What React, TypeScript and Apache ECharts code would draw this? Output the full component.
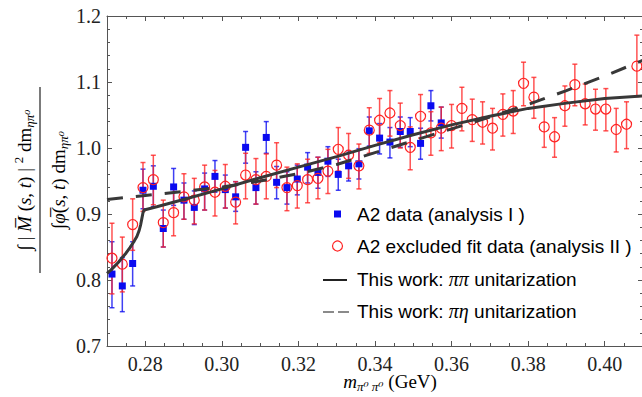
import React, { useEffect, useRef } from 'react';
import * as echarts from 'echarts';

// invariant mass m_{pi0 pi0} (GeV) of each data bin
const massValues = [
  0.2713, 0.2740, 0.2767, 0.2794, 0.2821, 0.2847, 0.2874, 0.2901, 0.2928, 0.2955,
  0.2982, 0.3009, 0.3036, 0.3062, 0.3089, 0.3116, 0.3143, 0.3170, 0.3197, 0.3224,
  0.3251, 0.3277, 0.3304, 0.3331, 0.3358, 0.3385, 0.3412, 0.3439, 0.3466, 0.3492,
  0.3519, 0.3546, 0.3573, 0.3600, 0.3627, 0.3654, 0.3681, 0.3707, 0.3734, 0.3761,
  0.3788, 0.3815, 0.3842, 0.3869, 0.3896, 0.3922, 0.3949, 0.3976, 0.4003, 0.4030,
  0.4057, 0.4084,
];

// A2 data (analysis I)
const blueValues = [
  0.809, 0.791, 0.825, 0.936, 0.942, 0.878, 0.941, 0.921, 0.910, 0.938,
  0.957, 0.937, 0.926, 1.001, 0.940, 1.016, 0.948, 0.940, 0.953, 0.971,
  0.963, 0.980, 0.960, 0.973, 0.976, 1.026, 1.015, 1.009, 1.025, 1.025,
  1.007, 1.064, 1.038,
];
const blueLow = [
  0.758, 0.752, 0.791, 0.908, 0.911, 0.850, 0.913, 0.892, 0.884, 0.906,
  0.933, 0.909, 0.904, 0.977, 0.915, 0.992, 0.923, 0.915, 0.929, 0.947,
  0.939, 0.957, 0.936, 0.950, 0.953, 1.003, 0.991, 0.985, 1.001, 1.002,
  0.983, 1.041, 1.015,
];
const blueHigh = [
  0.858, 0.834, 0.858, 0.968, 0.973, 0.906, 0.969, 0.947, 0.935, 0.962,
  0.981, 0.959, 0.949, 1.025, 0.964, 1.040, 0.972, 0.964, 0.974, 0.993,
  0.986, 1.002, 0.983, 0.996, 0.999, 1.047, 1.037, 1.031, 1.047, 1.046,
  1.030, 1.087, 1.062,
];

// A2 excluded fit data (analysis II)
const redValues = [
  0.833, 0.824, 0.884, 0.940, 0.952, 0.887, 0.902, 0.926, 0.921, 0.941,
  0.933, 0.942, 0.918, 0.959, 0.952, 0.957, 0.974, 0.940, 0.943, 0.952,
  0.954, 0.965, 0.998, 0.989, 0.973, 1.027, 1.042, 1.053, 1.034, 1.001,
  1.048, 1.023, 1.030, 1.034, 1.060, 1.043, 1.039, 1.030, 1.051, 1.056,
  1.098, 1.077, 1.032, 1.017, 1.064, 1.096, 1.067, 1.059, 1.059, 1.028,
  1.036, 1.124,
];
const redLow = [
  0.779, 0.782, 0.845, 0.904, 0.914, 0.850, 0.867, 0.892, 0.885, 0.906,
  0.897, 0.909, 0.885, 0.923, 0.915, 0.923, 0.940, 0.905, 0.909, 0.917,
  0.923, 0.931, 0.965, 0.954, 0.938, 0.992, 1.008, 1.018, 1.000, 0.967,
  1.015, 0.989, 0.996, 1.000, 1.026, 1.010, 1.006, 0.997, 1.018, 1.022,
  1.064, 1.045, 1.001, 0.986, 1.033, 1.064, 1.035, 1.027, 1.026, 0.994,
  0.999, 1.078,
];
const redHigh = [
  0.886, 0.865, 0.923, 0.978, 0.989, 0.921, 0.939, 0.961, 0.954, 0.974,
  0.966, 0.975, 0.949, 0.992, 0.984, 0.991, 1.008, 0.971, 0.976, 0.983,
  0.986, 0.998, 1.031, 1.022, 1.006, 1.061, 1.075, 1.087, 1.068, 1.032,
  1.081, 1.055, 1.062, 1.066, 1.092, 1.074, 1.070, 1.060, 1.082, 1.087,
  1.130, 1.107, 1.063, 1.046, 1.094, 1.127, 1.097, 1.089, 1.090, 1.060,
  1.070, 1.171,
];

// This work: pi pi unitarization (solid)
const ppX = [
  0.2700, 0.2710, 0.2720, 0.2730, 0.2740, 0.2750, 0.2760, 0.2770, 0.2778, 0.2784,
  0.2788, 0.2791, 0.2794, 0.2797, 0.2830, 0.2900, 0.3000, 0.3100, 0.3200, 0.3300,
  0.3400, 0.3500, 0.3600, 0.3700, 0.3800, 0.3900, 0.4000, 0.4100,
];
const ppY = [
  0.810, 0.815, 0.821, 0.827, 0.834, 0.841, 0.849, 0.858, 0.866, 0.875,
  0.884, 0.893, 0.902, 0.906, 0.911, 0.922, 0.938, 0.955, 0.971, 0.987,
  1.004, 1.020, 1.035, 1.048, 1.060, 1.068, 1.075, 1.079,
];

// This work: pi eta unitarization (dashed)
const peX = [
  0.270, 0.280, 0.290, 0.300, 0.310, 0.320, 0.330, 0.340, 0.350, 0.360,
  0.370, 0.380, 0.390, 0.400, 0.410,
];
const peY = [
  0.922, 0.928, 0.934, 0.941, 0.950, 0.961, 0.975, 0.993, 1.011, 1.029,
  1.047, 1.066, 1.087, 1.109, 1.133,
];

const xTickValues = [0.28, 0.30, 0.32, 0.34, 0.36, 0.38, 0.40];
const xMinorValues = [
  0.275, 0.285, 0.29, 0.295, 0.305, 0.31, 0.315, 0.325, 0.33, 0.335, 0.345, 0.35,
  0.355, 0.365, 0.37, 0.375, 0.385, 0.39, 0.395, 0.405,
];
const yTickValues = [0.7, 0.8, 0.9, 1.0, 1.1, 1.2];
const yMinorValues = [
  0.72, 0.74, 0.76, 0.78, 0.82, 0.84, 0.86, 0.88, 0.92, 0.94, 0.96, 0.98,
  1.02, 1.04, 1.06, 1.08, 1.12, 1.14, 1.16, 1.18,
];

const SERIF = '"Liberation Serif", "DejaVu Serif", serif';
const SANS = '"Liberation Sans", Arial, sans-serif';
const AXIS_COLOR = '#555';
const BLUE = '#0a0af0';
const RED = '#ff2222';
const CURVE = '#383838';

function errorBars(name: string, x: number[], lo: number[], hi: number[], color: string, z: number) {
  const data = lo.map((l, i) => [x[i], l, hi[i]]);
  return {
    type: 'custom',
    name,
    xAxisIndex: 0,
    yAxisIndex: 0,
    z,
    data,
    encode: { x: 0, y: [1, 2] },
    renderItem: (_params: any, api: any) => {
      const xv = api.value(0);
      const a = api.coord([xv, api.value(1)]);
      const b = api.coord([xv, api.value(2)]);
      const cap = 2.5;
      const st = { stroke: color, lineWidth: 1.5, opacity: 0.78 };
      return {
        type: 'group',
        children: [
          { type: 'line', shape: { x1: a[0], y1: a[1], x2: b[0], y2: b[1] }, style: st },
          { type: 'line', shape: { x1: a[0] - cap, y1: a[1], x2: a[0] + cap, y2: a[1] }, style: st },
          { type: 'line', shape: { x1: b[0] - cap, y1: b[1], x2: b[0] + cap, y2: b[1] }, style: st },
        ],
      };
    },
  };
}

function xAxisDef(position: 'bottom' | 'top', values: number[], len: number, labels: boolean, line: boolean) {
  return {
    type: 'value',
    position,
    min: 0.27,
    max: 0.41,
    axisLine: { show: line, onZero: false, lineStyle: { color: AXIS_COLOR, width: 1 } },
    axisTick: { show: true, inside: true, length: len, customValues: values, lineStyle: { color: AXIS_COLOR, width: 1 } },
    axisLabel: labels
      ? {
          show: true,
          customValues: values,
          formatter: (v: number) => v.toFixed(2),
          fontFamily: SERIF,
          fontSize: 20,
          color: '#222',
          margin: 8,
        }
      : { show: false },
    splitLine: { show: false },
  };
}

function yAxisDef(position: 'left' | 'right', values: number[], len: number, labels: boolean, line: boolean) {
  return {
    type: 'value',
    position,
    min: 0.7,
    max: 1.2,
    axisLine: { show: line, onZero: false, lineStyle: { color: AXIS_COLOR, width: 1 } },
    axisTick: { show: true, inside: true, length: len, customValues: values, lineStyle: { color: AXIS_COLOR, width: 1 } },
    axisLabel: labels
      ? {
          show: true,
          customValues: values,
          formatter: (v: number) => v.toFixed(1),
          fontFamily: SERIF,
          fontSize: 20,
          color: '#222',
          margin: 6,
        }
      : { show: false },
    splitLine: { show: false },
  };
}

export default function App() {
  const ref = useRef<HTMLDivElement>(null);

  useEffect(() => {
    if (!ref.current) return;
    const chart = echarts.init(ref.current, undefined, { renderer: 'svg' });

    const mathRich = {
      n: { fontFamily: SERIF, fontSize: 19, color: '#111', lineHeight: 24 },
      i: { fontFamily: SERIF, fontStyle: 'italic', fontSize: 19, color: '#111', lineHeight: 24 },
      sup: { fontFamily: SERIF, fontSize: 13, color: '#111', verticalAlign: 'top' },
      sub: { fontFamily: SERIF, fontStyle: 'italic', fontSize: 13, color: '#111', verticalAlign: 'bottom' },
    };
    const legendRich = {
      t: { fontFamily: SANS, fontSize: 19, color: '#111' },
      p: { fontFamily: SERIF, fontStyle: 'italic', fontSize: 20, color: '#111' },
    };

    const option: any = {
      animation: false,
      backgroundColor: '#fff',
      grid: { left: 107, top: 16, width: 536, height: 330, outerBoundsMode: 'none', containLabel: false },
      xAxis: [
        xAxisDef('bottom', xTickValues, 5, true, true),
        xAxisDef('bottom', xMinorValues, 3, false, false),
        xAxisDef('top', xTickValues, 5, false, true),
        xAxisDef('top', xMinorValues, 3, false, false),
      ],
      yAxis: [
        yAxisDef('left', yTickValues, 5, true, true),
        yAxisDef('left', yMinorValues, 3, false, false),
        yAxisDef('right', yTickValues, 5, false, true),
        yAxisDef('right', yMinorValues, 3, false, false),
      ],
      series: [
        errorBars('A2 data errors', massValues, blueLow, blueHigh, BLUE, 2),
        errorBars('A2 excluded errors', massValues, redLow, redHigh, RED, 3),
        {
          type: 'scatter',
          name: 'A2 data (analysis I )',
          xAxisIndex: 0,
          yAxisIndex: 0,
          z: 4,
          symbol: 'rect',
          symbolSize: 7,
          itemStyle: { color: BLUE, opacity: 1 },
          data: blueValues.map((v, i) => [massValues[i], v]),
        },
        {
          type: 'scatter',
          name: 'A2 excluded fit data (analysis II )',
          xAxisIndex: 0,
          yAxisIndex: 0,
          z: 5,
          symbol: 'circle',
          symbolSize: 10,
          itemStyle: { color: 'rgba(255,255,255,0)', borderColor: RED, borderWidth: 1.2, opacity: 1 },
          data: redValues.map((v, i) => [massValues[i], v]),
        },
        {
          type: 'line',
          name: 'This work: ππ unitarization',
          xAxisIndex: 0,
          yAxisIndex: 0,
          z: 6,
          showSymbol: false,
          symbol: 'none',
          lineStyle: { color: CURVE, width: 3 },
          data: ppX.map((x, i) => [x, ppY[i]]),
        },
        {
          type: 'line',
          name: 'This work: πη unitarization',
          xAxisIndex: 0,
          yAxisIndex: 0,
          z: 6,
          showSymbol: false,
          symbol: 'none',
          lineStyle: { color: CURVE, width: 3, type: [16, 13] },
          data: peX.map((x, i) => [x, peY[i]]),
        },
      ],
      graphic: [
        // legend
        { type: 'rect', shape: { x: 334, y: 210.5, width: 7, height: 7 }, style: { fill: BLUE } },
        { type: 'circle', shape: { cx: 337.5, cy: 246, r: 5 }, style: { fill: 'none', stroke: RED, lineWidth: 1.2 } },
        { type: 'line', shape: { x1: 323, y1: 280, x2: 347, y2: 280 }, style: { stroke: '#222', lineWidth: 2 } },
        { type: 'line', shape: { x1: 323, y1: 312, x2: 353, y2: 312 }, style: { stroke: '#8a8a8a', lineWidth: 2, lineDash: [11, 4] } },
        {
          type: 'text', x: 357, y: 214,
          style: { text: '{t|A2 data (analysis I )}', rich: legendRich, verticalAlign: 'middle', align: 'left' },
        },
        {
          type: 'text', x: 357, y: 246,
          style: { text: '{t|A2 excluded fit data (analysis II )}', rich: legendRich, verticalAlign: 'middle', align: 'left' },
        },
        {
          type: 'text', x: 357, y: 279,
          style: { text: '{t|This work: }{p|ππ}{t| unitarization}', rich: legendRich, verticalAlign: 'middle', align: 'left' },
        },
        {
          type: 'text', x: 357, y: 311,
          style: { text: '{t|This work: }{p|πη}{t| unitarization}', rich: legendRich, verticalAlign: 'middle', align: 'left' },
        },
        // x axis title
        {
          type: 'text', x: 390, y: 381,
          style: {
            text: '{i|m}{sub|π⁰ π⁰}{n| (GeV)}',
            rich: mathRich,
            align: 'center',
            verticalAlign: 'middle',
          },
        },
        // y axis title (fraction, rotated)
        {
          type: 'group', x: 40, y: 180, rotation: Math.PI / 2,
          children: [
            {
              type: 'text', x: 0, y: -16,
              style: {
                text: '{n|∫ | }{i|M̅}{n| (}{i|s}{n|, }{i|t}{n|) | }{sup|2}{n| dm}{sub|ηπ⁰}',
                rich: mathRich,
                align: 'center',
                verticalAlign: 'middle',
              },
            },
            { type: 'line', shape: { x1: -93, y1: 0, x2: 93, y2: 0 }, style: { stroke: '#222', lineWidth: 1.2 } },
            {
              type: 'text', x: 0, y: 18,
              style: {
                text: '{n|∫}{i|φ̅}{n|(}{i|s}{n|, }{i|t}{n|) dm}{sub|ηπ⁰}',
                rich: mathRich,
                align: 'center',
                verticalAlign: 'middle',
              },
            },
          ],
        },
      ],
    };

    chart.setOption(option);
    return () => chart.dispose();
  }, []);

  return <div ref={ref} style={{ width: 642, height: 397, position: 'absolute', left: 0, top: 0 }} />;
}
